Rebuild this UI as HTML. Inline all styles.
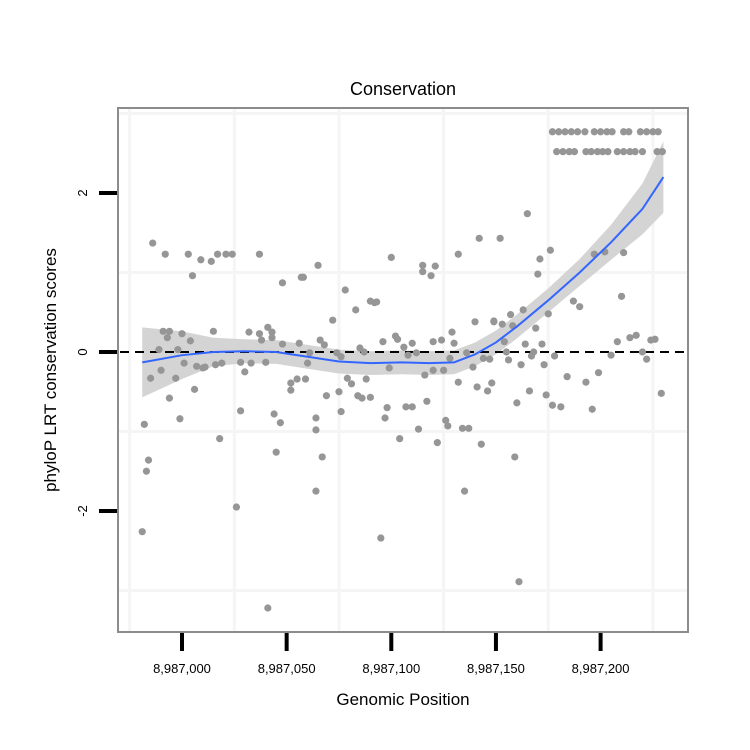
<!DOCTYPE html>
<html><head><meta charset="utf-8"><style>
html,body{margin:0;padding:0;background:#fff;}
svg{display:block;font-family:"Liberation Sans",sans-serif;}
</style></head><body>
<svg id="chart" width="750" height="750" viewBox="0 0 750 750">
<rect x="0" y="0" width="750" height="750" fill="#fff"/>
<text x="403" y="95" font-size="18" text-anchor="middle">Conservation</text>
<g id="grid"></g>
<path id="band" fill="#d4d4d4"/>
<line id="zero" stroke="#000" stroke-width="2" stroke-dasharray="9,6"/>
<g id="points"></g>
<path id="fit" fill="none" stroke="#3366ff" stroke-width="2"/>
<rect x="118" y="108" width="570" height="524" fill="none" stroke="#8c8c8c" stroke-width="2"/>
<g id="axes"></g>
<text x="403" y="705" font-size="17" text-anchor="middle">Genomic Position</text>
<text transform="translate(56,370) rotate(-90)" font-size="17" text-anchor="middle">phyloP LRT conservation scores</text>
</svg>
<script>
// x values are offsets from 8,987,000
const ptX = [-14,-8,3,9,14,17,21,24,37,5,48,57,-9,-6,-7,0,4,15,32,37,38,43,41,43,48,56,-11,-2,1,7,10,11,16,19,28,30,33,40,-15,-10,-3,6,-6,-1,28,44,47,52,52,55,59,61,60,-18,18,64,64,-16,-17,45,-19,41,26,
142,132,100,65,115,115,119,121,58,78,90,93,92,83,72,140,149,66,68,96,102,103,110,106,120,124,129,130,85,87,74,76,108,112,128,136,139,144,99,116,120,125,132,79,81,88,69,75,84,90,86,76,98,107,110,117,97,126,127,134,137,113,104,122,143,148,141,146,67,64,95,135,
177,180,183,186,189,192.5,197,200,203,205.5,211,213.5,219,222,225,227.5,
179,182,185,187.5,193,195.5,198.5,201,203.5,208,211,214,216.5,220,227,229.5,
165,152,176,171,170,197,202,211,210,187,190,175,163,157,149,153,158,169,154,164,172,168,167,178,155,156,147,162,173,208,214,217,224,226,205,220,222,184,193,199,166,160,174,177,181,196,229,161,159];
const ptY = [1.37,1.23,1.23,1.16,1.14,1.23,1.23,1.23,1.23,0.96,0.87,0.94,0.26,0.26,0.18,0.23,0.14,0.26,0.25,0.23,0.15,0.18,0.31,0.25,0.10,0.11,0.03,0.03,-0.14,-0.18,-0.20,-0.19,-0.16,-0.14,-0.13,-0.25,-0.14,-0.13,-0.33,-0.23,-0.33,-0.47,-0.58,-0.84,-0.74,-0.78,-0.89,-0.39,-0.48,-0.34,-0.34,-0.01,-0.14,-0.91,-1.09,-0.83,-0.98,-1.36,-1.50,-1.26,-2.26,-3.22,-1.95,
1.43,1.23,1.19,1.09,1.09,1.01,0.96,1.08,0.94,0.78,0.64,0.63,0.62,0.53,0.40,0.38,0.38,0.15,0.09,0.13,0.20,0.16,0.11,0.06,0.13,0.15,0.25,0.11,0.05,0,-0.01,-0.06,-0.04,-0.01,-0.08,-0.01,-0.19,-0.08,-0.20,-0.29,-0.23,-0.23,-0.38,-0.33,-0.40,-0.34,-0.55,-0.50,-0.55,-0.57,-0.58,-0.75,-0.70,-0.69,-0.69,-0.62,-0.83,-0.86,-0.93,-0.96,-0.96,-0.97,-1.09,-1.14,-1.16,-0.39,-0.44,-0.49,-1.32,-1.75,-2.34,-1.75,
2.77,2.77,2.77,2.77,2.77,2.77,2.77,2.77,2.77,2.77,2.77,2.77,2.77,2.77,2.77,2.77,
2.52,2.52,2.52,2.52,2.52,2.52,2.52,2.52,2.52,2.52,2.52,2.52,2.52,2.52,2.52,2.52,
1.74,1.43,1.28,1.17,0.98,1.23,1.26,1.25,0.70,0.64,0.57,0.48,0.53,0.47,0.39,0.35,0.33,0.30,0.13,0.10,0.10,0,-0.05,-0.05,0,-0.10,-0.09,-0.16,-0.16,0.13,0.18,0.21,0.15,0.16,-0.04,0,-0.09,-0.31,-0.38,-0.26,-0.49,-0.64,-0.54,-0.67,-0.69,-0.72,-0.52,-2.89,-1.32];
const fitX = [-19,0,15,30,45,60,75,90,105,118,130,140,150,160,175,190,205,220,230];
const fitY = [-0.13,-0.04,0,0.01,0,-0.06,-0.12,-0.14,-0.13,-0.14,-0.13,-0.03,0.12,0.32,0.65,1.0,1.38,1.8,2.2];
const fitHalfWidth = [0.44,0.3,0.18,0.15,0.15,0.15,0.15,0.15,0.15,0.15,0.15,0.15,0.15,0.15,0.15,0.17,0.22,0.32,0.45];
const xTicks = [0,50,100,150,200];
const xTickLabels = ["8,987,000","8,987,050","8,987,100","8,987,150","8,987,200"];
const yTicks = [-2,0,2];
const yTickLabels = ["-2","0","2"];
const xGrid = [-25,25,75,125,175,225];
const yGrid = [-3,-1,1,3];

const NS = "http://www.w3.org/2000/svg";
const sx = v => 182 + v * 2.093;
const sy = v => 352 - v * 79.5;

function mk(tag, attrs, parent){const e=document.createElementNS(NS,tag);for(const k in attrs)e.setAttribute(k,attrs[k]);parent.appendChild(e);return e;}

const grid = document.getElementById('grid');
xGrid.forEach(v=>{const l=mk('line',{x1:sx(v),x2:sx(v),y1:109,y2:631,stroke:'#f5f5f5','stroke-width':3},grid);

});
yGrid.forEach(v=>{const l=mk('line',{x1:119,x2:687,y1:sy(v),y2:sy(v),stroke:'#f5f5f5','stroke-width':3},grid);

});

let up='',dn='';
fitX.forEach((v,i)=>{up+=(i?'L':'M')+sx(v)+','+sy(fitY[i]+fitHalfWidth[i]);});
for(let i=fitX.length-1;i>=0;i--){dn+='L'+sx(fitX[i])+','+sy(fitY[i]-fitHalfWidth[i]);}
document.getElementById('band').setAttribute('d',up+dn+'Z');

const z=document.getElementById('zero');
z.setAttribute('x1',120);z.setAttribute('x2',686);z.setAttribute('y1',sy(0));z.setAttribute('y2',sy(0));

const pts=document.getElementById('points');
ptX.forEach((v,i)=>{const c=mk('circle',{cx:sx(v),cy:sy(ptY[i]),r:3.6,fill:'#969696'},pts);

});

let fd='';
fitX.forEach((v,i)=>{fd+=(i?'L':'M')+sx(v)+','+sy(fitY[i]);});
document.getElementById('fit').setAttribute('d',fd);

const axes=document.getElementById('axes');
xTicks.forEach((v,i)=>{
const t=mk('line',{x1:sx(v),x2:sx(v),y1:633,y2:651,stroke:'#000','stroke-width':4},axes);


const tx=mk('text',{x:sx(v),y:673,'font-size':13,'text-anchor':'middle'},axes);
tx.textContent=xTickLabels[i];


});
yTicks.forEach((v,i)=>{
const t=mk('line',{x1:99,x2:117,y1:sy(v),y2:sy(v),stroke:'#000','stroke-width':4},axes);


const tx=mk('text',{transform:'translate(87,'+sy(v)+') rotate(-90)','font-size':13,'text-anchor':'middle'},axes);
tx.textContent=yTickLabels[i];


});
</script>
</body></html>
